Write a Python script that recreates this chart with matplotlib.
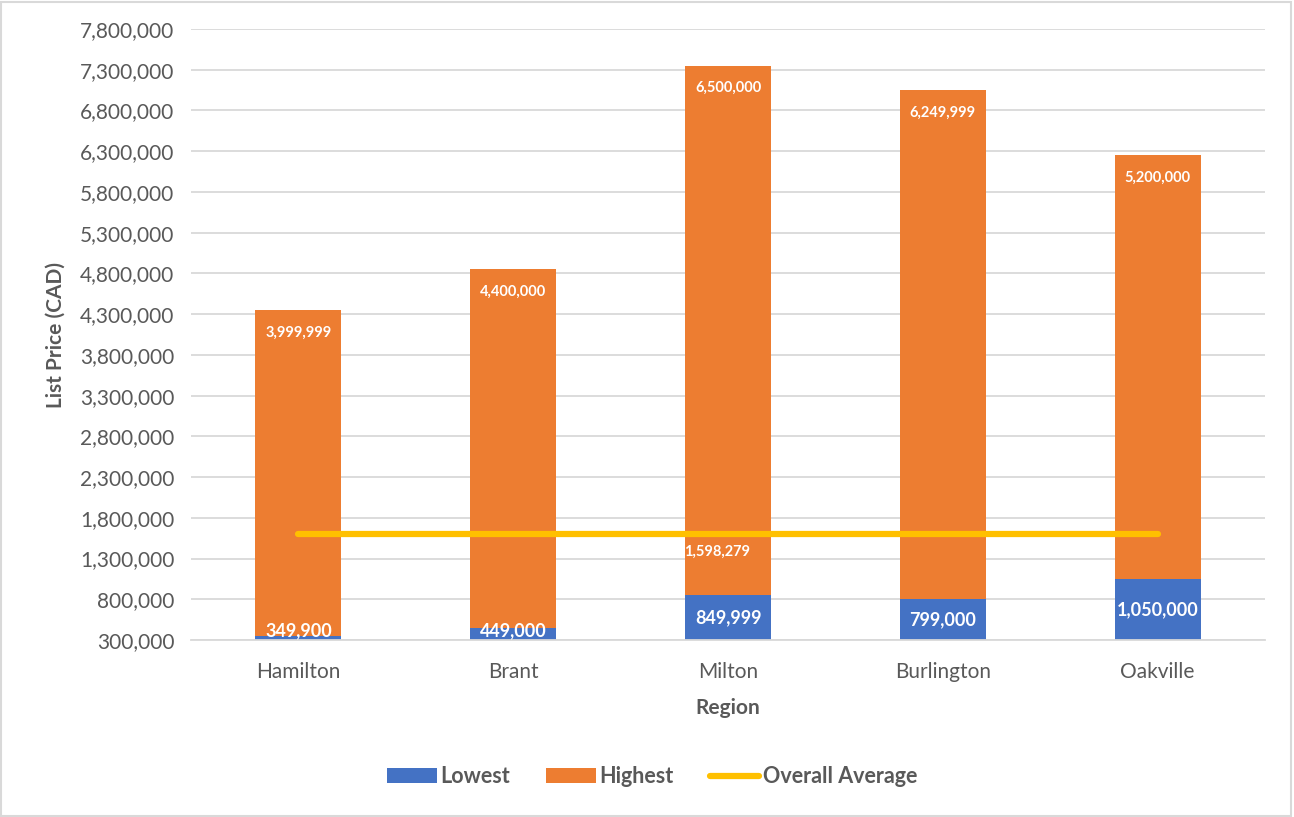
import matplotlib.pyplot as plt
from matplotlib.patches import Rectangle
from matplotlib.ticker import FuncFormatter

plt.rcParams["font.family"] = ["Lato", "DejaVu Sans"]

regions = ["Hamilton", "Brant", "Milton", "Burlington", "Oakville"]
lowest = [349900, 449000, 849999, 799000, 1050000]
highest = [3999999, 4400000, 6500000, 6249999, 5200000]
overall_avg = 1598279

BLUE = "#4472C4"
ORANGE = "#ED7D31"
YELLOW = "#FFC000"
GRID = "#D9D9D9"
TXT = "#595959"

fig = plt.figure(figsize=(12.94, 8.17), dpi=100)
ax = fig.add_axes([0.1476, 0.2166, 0.8300, 0.7479])

x = list(range(len(regions)))
ymin, ymax = 300000, 7800000
bw = 0.4

b1 = ax.bar(x, lowest, width=bw, color=BLUE, label="Lowest", zorder=2)
b2 = ax.bar(x, highest, width=bw, bottom=lowest, color=ORANGE, label="Highest", zorder=2)
ln, = ax.plot([x[0], x[-1]], [overall_avg, overall_avg], color=YELLOW, lw=4.5,
              solid_capstyle="round", label="Overall Average", zorder=3)

# data labels
for xi, lo, hi in zip(x, lowest, highest):
    ax.text(xi, lo + hi - 190000, f"{hi:,}", ha="center", va="top",
            color="white", fontsize=10.5, fontweight="bold", zorder=4)
    ylab = max((ymin + lo) / 2, 420000)
    ax.text(xi, ylab, f"{lo:,}", ha="center", va="center",
            color="white", fontsize=13, fontweight="bold", zorder=4)
ax.text(x[2] - 0.05, overall_avg - 210000, f"{overall_avg:,}", ha="center",
        va="center", color="white", fontsize=10.5, fontweight="bold", zorder=4)

ax.set_xlim(-0.5, len(regions) - 0.5)
ax.set_ylim(ymin, ymax)
ax.set_yticks(range(ymin, ymax + 1, 500000))
ax.yaxis.set_major_formatter(FuncFormatter(lambda v, p: f"{int(v):,}"))
ax.set_xticks(x)
ax.set_xticklabels(regions)
ax.tick_params(axis="both", length=0, labelsize=15, colors=TXT)
ax.tick_params(axis="y", pad=12)
ax.tick_params(axis="x", pad=16)
ax.grid(axis="y", color=GRID, lw=1.3, zorder=0)
ax.set_axisbelow(True)
for s in ["top", "right", "left"]:
    ax.spines[s].set_visible(False)
ax.spines["bottom"].set_color(GRID)
ax.spines["bottom"].set_linewidth(1.3)

ax.set_ylabel("List Price (CAD)", fontsize=15, fontweight="bold", color=TXT, labelpad=10)
ax.set_xlabel("Region", fontsize=15, fontweight="bold", color=TXT, labelpad=11)

leg = fig.legend([b1, b2, ln], ["Lowest", "Highest", "Overall Average"],
                 loc="center", bbox_to_anchor=(0.504, 0.049), ncol=3, frameon=False,
                 fontsize=15.5, handlelength=2.3, handleheight=0.7, columnspacing=1.7,
                 handletextpad=0.15)
for t in leg.get_texts():
    t.set_color(TXT)
    t.set_fontweight("bold")

fig.patches.append(Rectangle((0.001, 0.001), 0.997, 0.997, transform=fig.transFigure,
                             fill=False, edgecolor=GRID, lw=1.5))

fig.savefig("out.png", dpi=100)
